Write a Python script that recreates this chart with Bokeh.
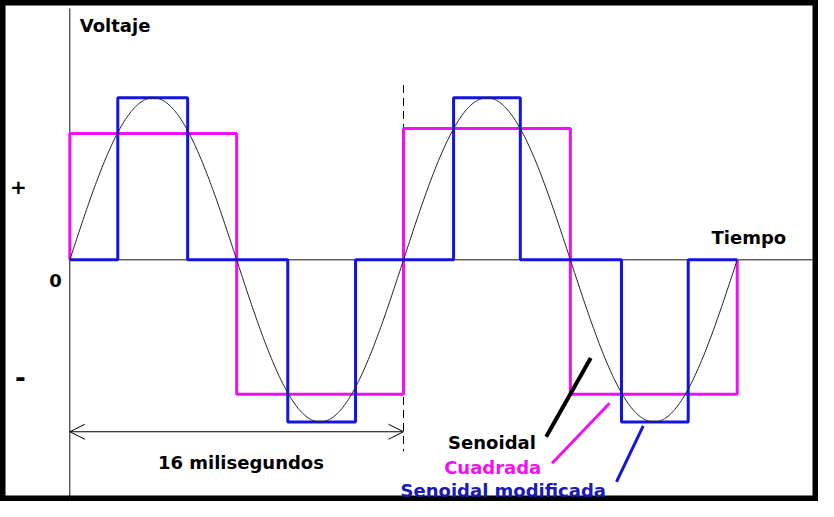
import numpy as np
from bokeh.plotting import figure
from bokeh.models import Label, Arrow, OpenHead
from bokeh.embed import file_html
from bokeh.resources import INLINE

# ---------------- data ----------------
period_ms = 16.0
n_periods = 2
sine_amplitude = 1.0

# square wave ("Cuadrada"): one level per half-cycle
square_edges_ms = [0.0, 8.0, 16.0, 24.0, 32.0]
square_levels = [0.78, -0.83, 0.81, -0.83]

# modified sine ("Senoidal modificada"): one pulse per half-cycle
mod_on_ms = [2.3, 10.45, 18.4, 26.45]
mod_off_ms = [5.65, 13.7, 21.6, 29.65]
mod_levels = [1.0, -1.0, 1.0, -1.0]

y_tick_labels = ["+", "0", "-"]
axis_titles = ["Voltaje", "Tiempo"]
span_label = "16 milisegundos"
legend_names = ["Senoidal", "Cuadrada", "Senoidal modificada"]

# ---------------- layout helpers (reference pixels -> data) ----------------
PX_PER_MS = 21.06
PX_PER_V = 165.0
X0, Y0 = 78.0, 271.0   # reference position of the origin
W, H = 818, 501
# outer box of the bordered drawing in reference pixels
BOX_L, BOX_R, BOX_T, BOX_B = 8.0, 834.0, 7.0, 517.0


def tx(px):
    return (px - X0) / PX_PER_MS


def vy(py):
    return (Y0 - py) / PX_PER_V


BLACK = "#000000"
MAGENTA = "#f010f0"
BLUE = "#1414e0"
BLUE_TXT = "#1a1ab8"
FONT = "DejaVu Sans"

p = figure(width=W, height=H, output_backend="svg", toolbar_location=None,
           x_range=(tx(BOX_L), tx(BOX_R)), y_range=(vy(BOX_B), vy(BOX_T)),
           x_axis_type=None, y_axis_type=None, min_border=0)
p.xgrid.visible = False
p.ygrid.visible = False
p.background_fill_color = "white"
p.border_fill_color = "white"
p.outline_line_color = BLACK
p.outline_line_width = 10

# axes lines
p.segment(x0=[0], y0=[vy(15)], x1=[0], y1=[vy(520)], line_color="#111111", line_width=1)
p.segment(x0=[0], y0=[0], x1=[tx(828)], y1=[0], line_color="#111111", line_width=1)

# period marker (dashed) and span arrow
p.segment(x0=[period_ms], y0=[vy(93)], x1=[period_ms], y1=[vy(466)],
          line_color=BLACK, line_width=1, line_dash="8 5")
p.add_layout(Arrow(start=OpenHead(size=15, line_width=1, line_color=BLACK),
                   end=OpenHead(size=15, line_width=1, line_color=BLACK),
                   x_start=0, y_start=vy(446), x_end=period_ms, y_end=vy(446),
                   line_width=1, line_color=BLACK))

# square wave path
sq_x, sq_y = [0.0], [0.0]
for i, lvl in enumerate(square_levels):
    sq_x += [square_edges_ms[i], square_edges_ms[i + 1]]
    sq_y += [lvl, lvl]
sq_x.append(square_edges_ms[-1])
sq_y.append(0.0)
p.line(sq_x, sq_y, line_color=MAGENTA, line_width=3)

# modified sine path
md_x, md_y = [0.0], [0.0]
for on, off, lvl in zip(mod_on_ms, mod_off_ms, mod_levels):
    md_x += [on, on, off, off]
    md_y += [0.0, lvl, lvl, 0.0]
md_x.append(n_periods * period_ms)
md_y.append(0.0)
p.line(md_x, md_y, line_color=BLUE, line_width=3)

# pure sine
t = np.linspace(0, n_periods * period_ms, 600)
p.line(t, sine_amplitude * np.sin(2 * np.pi * t / period_ms), line_color="#222222", line_width=1)

# pointer lines to the legend labels
p.segment(x0=[tx(559)], y0=[vy(451)], x1=[tx(604)], y1=[vy(371)], line_color=BLACK, line_width=4)
p.segment(x0=[tx(565)], y0=[vy(478)], x1=[tx(623)], y1=[vy(417)], line_color=MAGENTA, line_width=3)
p.segment(x0=[tx(630)], y0=[vy(497)], x1=[tx(657)], y1=[vy(440)], line_color=BLUE, line_width=3)


def label(px, py, text, color=BLACK, size="18px", align="left"):
    p.add_layout(Label(x=tx(px), y=vy(py), text=text, text_color=color,
                       text_font=FONT, text_font_style="bold", text_font_size=size,
                       text_align=align, text_baseline="alphabetic"))


label(88, 32, axis_titles[0])
label(726, 248, axis_titles[1])
label(167, 477, span_label)
label(26, 197, y_tick_labels[0], size="20px", align="center")
label(63.5, 292, y_tick_labels[1], align="center")
label(28, 390, y_tick_labels[2], size="26px", align="center")
label(460, 457, legend_names[0], color=BLACK)
label(456, 482, legend_names[1], color=MAGENTA)
label(412, 506, legend_names[2], color=BLUE_TXT)

open("out.html", "w").write(file_html(p, INLINE))
